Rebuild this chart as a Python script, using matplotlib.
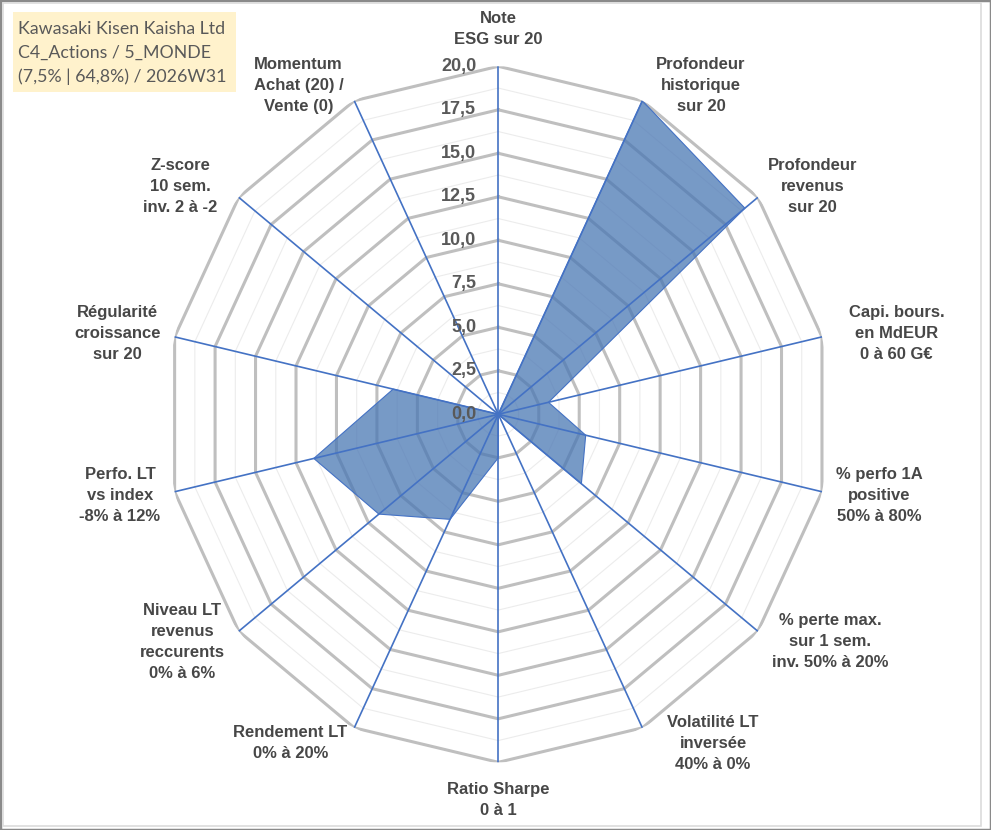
import numpy as np
import matplotlib
matplotlib.use('Agg')
import matplotlib.pyplot as plt
from matplotlib.patches import Rectangle

# Data
axis_labels = [
    'Note\nESG sur 20',
    'Profondeur\nhistorique\nsur 20',
    'Profondeur\nrevenus\nsur 20',
    'Capi. bours.\nen MdEUR\n0 à 60 G€',
    '% perfo 1A\npositive\n50% à 80%',
    '% perte max.\nsur 1 sem.\ninv. 50% à 20%',
    'Volatilité LT\ninversée\n40% à 0%',
    'Ratio Sharpe\n0 à 1',
    'Rendement LT\n0% à 20%',
    'Niveau LT\nrevenus\nreccurents\n0% à 6%',
    'Perfo. LT\nvs index\n-8% à 12%',
    'Régularité\ncroissance\nsur 20',
    'Z-score\n10 sem.\ninv. 2 à -2',
    'Momentum\nAchat (20) /\nVente (0)',
]
scores = [0.0, 20.0, 19.0, 3.1, 5.4, 6.4, 0.0, 2.5, 6.7, 9.2, 11.4, 6.5, 0.0, 0.0]
major_levels = [2.5, 5.0, 7.5, 10.0, 12.5, 15.0, 17.5, 20.0]
tick_levels = [0.0, 2.5, 5.0, 7.5, 10.0, 12.5, 15.0, 17.5, 20.0]
title_lines = ['Kawasaki Kisen Kaisha Ltd', 'C4_Actions / 5_MONDE', '(7,5% | 64,8%) / 2026W31']

# small horizontal nudges (pixels) so labels sit where Excel put them
label_nudge = [0, 0, -4, 13, 0, 0, 11, 0, 7, 0, 0, 0, -7, 3]

W, H = 991, 830
fig = plt.figure(figsize=(W / 100, H / 100), dpi=100)
fig.patch.set_facecolor('white')

# chart area borders
fig.patches.append(Rectangle((0, 0), 1, 1, transform=fig.transFigure, fill=False,
                             edgecolor='#8a8a8a', lw=2.5))
fig.patches.append(Rectangle((3 / W, 4 / H), 978 / W, 823 / H, transform=fig.transFigure,
                             fill=False, edgecolor='#dcdcdc', lw=1.2))

# radar area (slightly taller than wide, like the original)
cx, cy, rx, ry = 498.3, 414.3, 332, 348
ax = fig.add_axes([(cx - rx) / W, (H - cy - ry) / H, 2 * rx / W, 2 * ry / H], projection='polar')
ax.set_aspect('auto')
ax.set_theta_offset(np.pi / 2)
ax.set_theta_direction(-1)
ax.set_ylim(0, 20)
ax.grid(False)
ax.set_xticks([])
ax.set_yticks([])
ax.spines['polar'].set_visible(False)
ax.patch.set_alpha(0)

n = len(axis_labels)
theta = np.linspace(0, 2 * np.pi, n, endpoint=False)
theta_c = np.append(theta, theta[0])

# minor and major polygon grid
for lev in major_levels:
    ax.plot(theta_c, [lev - 1.25] * (n + 1), color='#ececec', lw=0.8, zorder=1)
for lev in major_levels:
    ax.plot(theta_c, [lev] * (n + 1), color='#bfbfbf', lw=2.2, zorder=2)

# series
vals = np.append(scores, scores[0])
ax.fill(theta_c, vals, facecolor='#4a78b4', alpha=0.75, zorder=3, lw=0)
ax.plot(theta_c, vals, color='#4472c4', lw=0.8, zorder=4)

# spokes
for t in theta:
    ax.plot([t, t], [0, 20], color='#4472c4', lw=1.2, zorder=5)

# radial tick labels
for lev in tick_levels:
    ax.annotate(f'{lev:.1f}'.replace('.', ','), xy=(0, lev), xytext=(-22, 0),
                textcoords='offset pixels', ha='right', va='center',
                fontsize=13, fontweight='bold', color='#595959',
                family='Liberation Sans', zorder=6)

# category labels
for t, lab, nx in zip(theta, axis_labels, label_nudge):
    s, c = np.sin(t), np.cos(t)
    if abs(s) < 0.1:
        ha = 'center'
        va = 'bottom' if c > 0 else 'top'
        off = (nx, 19 if c > 0 else -20)
    else:
        ha = 'left' if s > 0 else 'right'
        va = 'center'
        off = (14 * np.sign(s) + nx, 17 * c)
    ax.annotate(lab, xy=(t, 20), xytext=off, textcoords='offset pixels',
                ha=ha, va=va, multialignment='center', fontsize=12,
                fontweight='bold', color='#474747', family='Liberation Sans',
                linespacing=1.5, annotation_clip=False)

# title box
fig.patches.append(Rectangle((13 / W, 1 - 92 / H), 223 / W, 80 / H, transform=fig.transFigure,
                             facecolor='#fff2cc', edgecolor='none'))
fig.text(18 / W, 1 - 53 / H, '\n'.join(title_lines), ha='left', va='center',
         fontsize=12.8, color='#595959', family='Lato', linespacing=1.55)

fig.savefig('out.png', dpi=100)
